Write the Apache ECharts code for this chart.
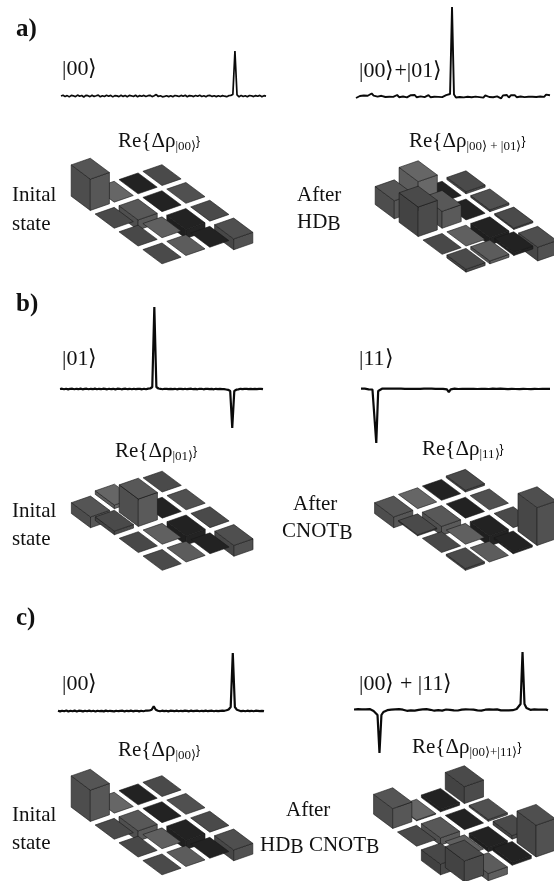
<!DOCTYPE html>
<html><head><meta charset="utf-8">
<style>html,body{margin:0;padding:0;background:#fff}#c{width:554px;height:881px;filter:blur(.4px)}</style>
<script src="https://cdn.jsdelivr.net/npm/echarts@6/dist/echarts.min.js"></script>
</head><body><div id="c"></div>
<script>
// Spectra (amplitude values, 100 channels each)
const specA1 = [0,.8,-.6,.4,-.9,.6,.2,-.7,.9,-.3,.5,-1,.6,.3,-.6,.8,-.4,.2,.9,-.8,.3,-.5,.7,-.2,.6,-.9,.4,.1,-.6,.7,-.4,.5,-.8,.6,.2,-.5,.8,-.7,.4,-.2,.6,-.5,.3,.7,-.6,.2,1.4,-.5,.3,-.8,-.4,.2,-.6,.3,-.7,.5,.1,-.5,.6,-.3,.7,-.8,.4,.2,-.6,.5,-.3,.7,-.5,.2,-.7,.4,.6,-.4,.2,-.6,.3,-.5,.4,-.2,-.7,.3,.6,1.5,45,1.2,-.8,.6,-.5,.3,-.7,.5,.2,-.6,.4,-.3,.6,-.7,.3,-.2];
const specA2 = [-2,-1,0,1,.5,1.5,.2,1.2,2.5,.4,1.2,-.6,1.4,.2,1.3,-1,.8,-.7,1.2,-.9,.6,1,-1.2,.7,-.5,1,-1.4,.4,.8,-.8,1,-1.3,.5,-.4,1.1,-1.1,.6,.9,-1.2,.4,-.7,1,-.9,.5,-1.1,.3,.8,-.7,2,89,1.5,-1.5,.4,-1,.7,-1.4,.3,-.8,1,-1.2,.5,-.6,.9,-1.1,.4,-1.6,.7,.3,-1,.8,-1.3,.5,-.4,1.2,-2.4,.6,-.8,1,-1.5,.7,-.6,.9,-1.2,.3,-.5,1,-1.1,.6,-.8,.9,-.7,.4,-1,.8,-.5,.6,-.9,1.4,.3,.8];
const specB1 = [0,.3,-.2,.3,-.4,.2,.3,-.3,.2,-.2,.4,-.3,.1,.3,-.3,.2,-.2,.4,-.3,.2,-.2,.3,.1,-.3,.3,-.2,.2,-.4,.3,.2,-.3,.1,.3,-.2,.2,-.3,.3,-.2,.2,.1,-.3,.3,-.2,.4,.5,2,82,2,.5,.2,-.3,.2,.1,-.2,.2,-.1,.2,-.3,.1,.2,-.2,.3,-.2,.1,.3,-.2,.1,-.3,.2,.2,-.3,.1,.2,-.2,.1,-.3,.2,-.1,.2,-.2,-.2,-.5,-.8,-2,-39,-2,-.7,-.4,.2,-.2,.1,.2,-.2,.2,-.1,.2,-.2,.1,.2,-.1];
const specB2 = [.3,-.2,.3,.1,-.3,.2,-.5,-2,-54,-2,-.6,.3,.2,.4,.1,.3,.2,.3,.1,.4,.2,.3,.1,.2,.4,.1,.3,.2,.4,.1,.3,.2,.1,.3,.2,.4,.1,.3,.2,.1,.3,.2,.1,.2,.1,-.4,-3.2,-.3,.1,.3,.2,0,.3,.1,-.1,.2,.3,.1,-.2,.2,.1,0,.3,.1,-.1,.2,.3,0,.1,.3,-.1,.2,.1,.3,0,.2,.1,-.2,.3,.1,.2,0,.3,-.1,.2,.1,.3,0,.2,-.1,.3,.1,.2,0,.3,.1,-.1,.2,.3,.1];
const specC1 = [.2,-.4,.3,-.2,.5,-.5,.2,-.3,.4,-.5,.3,.1,-.4,.3,-.2,.4,-.3,.2,-.5,.3,-.2,.1,-.4,.4,-.3,.2,-.1,-.4,.3,-.2,.1,.3,-.4,.2,-.2,.4,-.3,.1,.2,-.4,.3,-.2,.3,.4,.5,1.2,4.6,1.2,.2,-.3,.3,-.1,.2,-.4,.3,.1,-.2,.4,-.3,.2,-.1,.3,.1,-.3,.4,-.2,.2,.3,-.3,.2,-.1,.4,-.2,.1,.3,-.3,.2,-.2,.2,.3,.2,.7,1.5,4,58,4,1.2,.5,-.2,.2,-.3,.3,-.1,.2,-.3,.3,.1,-.2,.2,-.2];
const specC2 = [.5,-.6,.8,-.4,.6,-1,.7,-.5,.9,-.7,-1,-2,-5,-43,-5,-2,-1.2,-.2,.8,.3,-.7,.6,-.5,.9,-.4,.3,.7,-.8,.4,-.3,.7,-.6,.5,.2,-.7,.6,-.3,.8,-.5,.2,.5,-.7,.4,-.2,.8,-.6,.3,.5,-.7,.2,.6,-.4,.7,-.5,.2,.4,-.7,.6,-.3,.5,-.5,.3,.6,-.4,.2,-.6,.5,.3,-.5,.6,-.2,.4,-.5,.6,.2,-.4,.5,-.3,.6,-.4,.3,-.2,.6,1,2,6,58,6,2,1,.2,-.5,.6,-.4,.3,-.6,.5,-.2,.4,-.3];

const rhoA1 = [[.87,0,0,0],[0,-.28,0,0],[0,0,-.25,0],[0,0,0,-.3]];
const rhoA2 = [[.5,.8,0,.06],[.82,.47,0,.05],[0,0,-.2,.04],[.08,.08,.08,-.38]];
const rhoB1 = [[-.3,.1,0,0],[.1,.76,0,0],[0,0,-.25,0],[0,0,0,-.3]];
const rhoB2 = [[-.3,0,0,.05],[-.03,-.25,0,0],[0,0,-.28,0],[.05,0,.05,1.05]];
const rhoC1 = [[.87,0,0,0],[0,-.28,0,0],[0,0,-.25,0],[0,0,0,-.3]];
const rhoC2 = [[.55,-.02,.07,.47],[0,-.2,0,.05],[-.3,0,-.12,.1],[.58,-.2,.08,.88]];

// ---- layout ----
const specPanels = [
 {d:specA1,left:61,w:205,base:96,lw:1.7},
 {d:specA2,left:356,w:194,base:96,lw:1.9},
 {d:specB1,left:60,w:203,base:389,lw:2.2},
 {d:specB2,left:361,w:189,base:389,lw:2.2},
 {d:specC1,left:58,w:206,base:711,lw:2.2},
 {d:specC2,left:354,w:194,base:710,lw:2.2}
];
const rhoPanels = [
 {d:rhoA1,ox:90.3,oy:200},
 {d:rhoA2,ox:394.3,oy:208.3},
 {d:rhoB1,ox:90.5,oy:506.5},
 {d:rhoB2,ox:393.7,oy:506.5},
 {d:rhoC1,ox:90.3,oy:811},
 {d:rhoC2,ox:392.7,oy:818}
];
const shade = [[0x55,0x66,0x22,0x4a],[0x4a,0x58,0x22,0x50],[0x48,0x60,0x22,0x4a],[0x4a,0x5c,0x22,0x4f]];
const CELL = 23.9, UNIT = 36, FILL = .8, SLOPE_C = 8.3/36, SLOPE_R = 17.8/36;
const gray = (v)=>{v=Math.max(0,Math.round(v));return 'rgb('+v+','+v+','+v+')'};

const grid=[],xAxis=[],yAxis=[],series=[];
specPanels.forEach(p=>{
  const i=grid.length;
  grid.push({left:p.left,top:p.base-90,width:p.w,height:150});
  xAxis.push({type:'value',gridIndex:i,min:0,max:99,show:false});
  yAxis.push({type:'value',gridIndex:i,min:-60,max:90,show:false});
  series.push({type:'line',xAxisIndex:i,yAxisIndex:i,data:p.d.map((v,k)=>[k,v]),showSymbol:false,symbol:'none',
    clip:false,lineStyle:{color:'#0a0a0a',width:p.lw,join:'bevel'},silent:true});
});
rhoPanels.forEach(p=>{
  const i=grid.length;
  grid.push({left:p.ox-CELL,top:p.oy-1.5*UNIT,width:7*CELL,height:3.1*UNIT});
  xAxis.push({type:'value',gridIndex:i,min:-1,max:6,show:false});
  yAxis.push({type:'value',gridIndex:i,min:-1.6,max:1.5,show:false});
  const cells=[];
  for(let r=0;r<4;r++)for(let c=0;c<4;c++)cells.push([r+c,r,c,p.d[r][c]]);
  cells.sort((a,b)=>(a[1]-a[2])-(b[1]-b[2]));
  series.push({type:'custom',xAxisIndex:i,yAxisIndex:i,data:cells,clip:false,silent:true,
    encode:{x:0,y:3},
    renderItem:(params,api)=>{
      const r=api.value(1),c=api.value(2),h=api.value(3),s=shade[r][c];
      const f=FILL/2;
      const pt=(a,b,z)=>api.coord([a+b,b*SLOPE_C-a*SLOPE_R+z]);
      const hi=Math.max(h,0),lo=Math.min(h,0);
      const L=[r-f,c-f],B=[r+f,c-f],R=[r+f,c+f],T=[r-f,c+f];
      const st=(col)=>({fill:col,stroke:'#1a1a1a',lineWidth:.6,lineJoin:'round'});
      const poly=(pts,col)=>({type:'polygon',shape:{points:pts},style:st(col)});
      const kids=[];
      if(hi-lo>0.005){
        kids.push(poly([pt(L[0],L[1],hi),pt(B[0],B[1],hi),pt(B[0],B[1],lo),pt(L[0],L[1],lo)],gray(s*.9)));
        kids.push(poly([pt(B[0],B[1],hi),pt(R[0],R[1],hi),pt(R[0],R[1],lo),pt(B[0],B[1],lo)],gray(s*1.02)));
      }
      kids.push(poly([pt(L[0],L[1],hi),pt(T[0],T[1],hi),pt(R[0],R[1],hi),pt(B[0],B[1],hi)],gray(s)));
      return {type:'group',children:kids};
    }});
});

// ---- text ----
const FONT='"Liberation Serif","Times New Roman",serif';
const text=(x,y,t,size,weight)=>({type:'text',left:x,top:y-size*.43,silent:true,
  style:{text:t,x:0,y:0,fill:'#111',font:(weight||'normal')+' '+size+'px '+FONT}});
const re=(x,y,sub)=>({type:'text',left:x,top:y-10,silent:true,
  style:{text:'{m|Re{Δρ}{s|'+sub+'}{m|}}',rich:{
    m:{fontFamily:FONT,fontSize:21,fill:'#111',lineHeight:26},
    s:{fontFamily:FONT,fontSize:13,fill:'#111',lineHeight:26,padding:[10,0,0,0]}}}});
const subT=(x,y,parts)=>({type:'text',left:x,top:y-12,silent:true,
  style:{text:parts.map(p=>'{'+p[1]+'|'+p[0]+'}').join(''),rich:{
    n:{fontFamily:FONT,fontSize:21,fill:'#111',lineHeight:26},
    b:{fontFamily:FONT,fontSize:20,fill:'#111',lineHeight:26,padding:[5,0,0,0]}}}});
const K='\u27E9';
const graphic=[
 text(16,28,'a)',25,'bold'),text(16,303,'b)',25,'bold'),text(16,617,'c)',25,'bold'),
 text(62,68,'|00'+K,22),text(359,70,'|00'+K+'+|01'+K,22),
 text(62,358,'|01'+K,22),text(359,358,'|11'+K,22),
 text(62,683,'|00'+K,22),text(359,683,'|00'+K+' + |11'+K,22),
 re(118,140,'|00'+K),re(409,140,'|00'+K+' + |01'+K),
 re(115,450,'|01'+K),re(422,448,'|11'+K),
 re(118,749,'|00'+K),re(412,746,'|00'+K+'+|11'+K),
 text(12,194,'Inital',21),text(12,223,'state',21),
 text(12,510,'Inital',21),text(12,538,'state',21),
 text(12,814,'Inital',21),text(12,842,'state',21),
 text(297,194,'After',21),subT(297,222,[['HD','n'],['B','b']]),
 text(293,503,'After',21),subT(282,531,[['CNOT','n'],['B','b']]),
 text(286,809,'After',21),subT(260,845,[['HD','n'],['B','b'],[' CNOT','n'],['B','b']])
];

const chart=echarts.init(document.getElementById('c'),null,{renderer:'canvas'});
chart.setOption({animation:false,backgroundColor:'#fff',grid,xAxis,yAxis,series,graphic});
</script></body></html>
